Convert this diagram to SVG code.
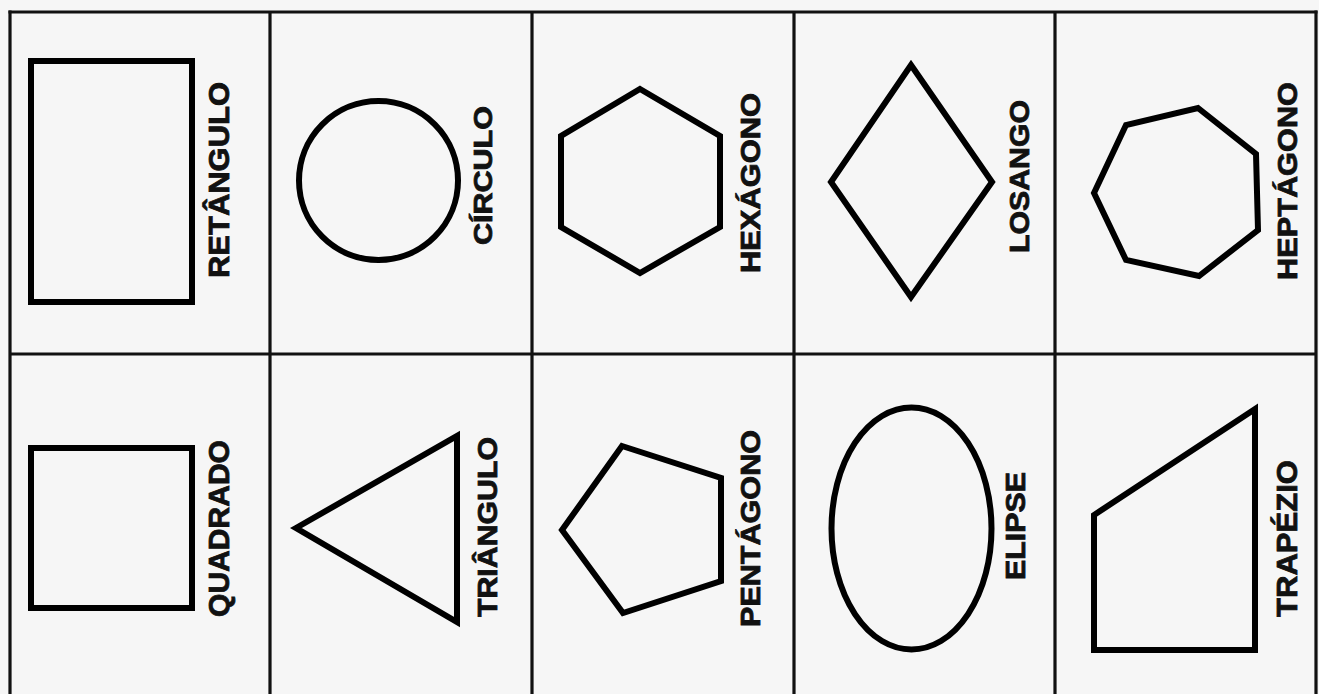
<svg xmlns="http://www.w3.org/2000/svg" width="1319" height="694" viewBox="0 0 1319 694">
<style>
.grid{stroke:#111;stroke-width:3.2;fill:none}
.shape{stroke:#000;stroke-width:6;fill:none;stroke-linejoin:miter}
.lbl{font-family:"Liberation Sans",Arial,sans-serif;font-weight:bold;fill:#111;stroke:#111;stroke-width:0.8;text-anchor:middle}
</style>
<rect x="0" y="0" width="1319" height="694" fill="#f6f6f6"/>
<g id="grid" class="grid">
<line x1="8.5" y1="12" x2="1317.5" y2="12"/>
<line x1="10" y1="354" x2="1316" y2="354"/>
<line x1="10" y1="10.5" x2="10" y2="694"/>
<line x1="270" y1="12" x2="270" y2="694"/>
<line x1="532" y1="12" x2="532" y2="694"/>
<line x1="794" y1="12" x2="794" y2="694"/>
<line x1="1055" y1="12" x2="1055" y2="694"/>
<line x1="1316" y1="10.5" x2="1316" y2="694"/>
</g>
<g id="retangulo">
<rect class="shape" x="31" y="61" width="161" height="241"/>
<text class="lbl" font-size="29" transform="translate(229,180) rotate(-90)" textLength="196" lengthAdjust="spacingAndGlyphs">RETÂNGULO</text>
</g>
<g id="circulo">
<circle class="shape" cx="378.5" cy="180.5" r="79.5"/>
<text class="lbl" font-size="25" transform="translate(492,175.5) rotate(-90)" textLength="139" lengthAdjust="spacingAndGlyphs">CÍRCULO</text>
</g>
<g id="hexagono">
<polygon class="shape" points="640,89 720,136 720,227 640,273 561,227 561,136"/>
<text class="lbl" font-size="27" transform="translate(760,183) rotate(-90)" textLength="180" lengthAdjust="spacingAndGlyphs">HEXÁGONO</text>
</g>
<g id="losango">
<polygon class="shape" points="911,65 992,182 911,297 831,182"/>
<text class="lbl" font-size="27" transform="translate(1029,176.5) rotate(-90)" textLength="153" lengthAdjust="spacingAndGlyphs">LOSANGO</text>
</g>
<g id="heptagono">
<polygon class="shape" points="1198,108 1256,154 1258,230 1199,276 1126,260 1094,193 1126,125"/>
<text class="lbl" font-size="28" transform="translate(1297,181) rotate(-90)" textLength="198" lengthAdjust="spacingAndGlyphs">HEPTÁGONO</text>
</g>
<g id="quadrado">
<rect class="shape" x="31" y="448" width="161" height="160"/>
<text class="lbl" font-size="29" transform="translate(229,528.5) rotate(-90)" textLength="177" lengthAdjust="spacingAndGlyphs">QUADRADO</text>
</g>
<g id="triangulo">
<polygon class="shape" points="296,528 457,436 457,622"/>
<text class="lbl" font-size="28" transform="translate(497,527) rotate(-90)" textLength="180" lengthAdjust="spacingAndGlyphs">TRIÂNGULO</text>
</g>
<g id="pentagono">
<polygon class="shape" points="622,446 721,478 721,581 623,613 562,530"/>
<text class="lbl" font-size="28" transform="translate(760,528.5) rotate(-90)" textLength="197" lengthAdjust="spacingAndGlyphs">PENTÁGONO</text>
</g>
<g id="elipse">
<ellipse class="shape" cx="911.5" cy="528.5" rx="80" ry="121"/>
<text class="lbl" font-size="27" transform="translate(1025,526) rotate(-90)" textLength="108" lengthAdjust="spacingAndGlyphs">ELIPSE</text>
</g>
<g id="trapezio">
<polygon class="shape" points="1255,409 1255,650 1094,650 1094,515"/>
<text class="lbl" font-size="30" transform="translate(1297,538.5) rotate(-90)" textLength="157" lengthAdjust="spacingAndGlyphs">TRAPÉZIO</text>
</g>
</svg>
